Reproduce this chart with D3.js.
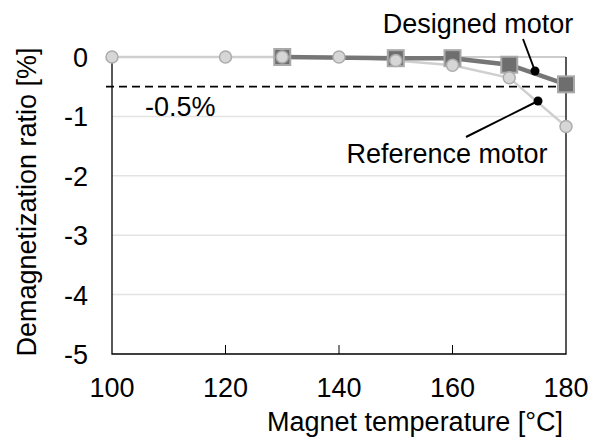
<!DOCTYPE html>
<html>
<head>
<meta charset="utf-8">
<script src="https://cdn.jsdelivr.net/npm/d3@7"></script>
<style>
  body { margin: 0; background: #fff; }
  text { font-family: Arial, "Liberation Sans", sans-serif; fill: #000; }
</style>
</head>
<body>
<svg id="chart" width="598" height="437"></svg>
<script>
// data
var referenceTemps = [100, 120, 130, 140, 150, 160, 170, 180];
var referenceRatio = [0, 0, 0, 0, -0.06, -0.14, -0.35, -1.17];
var designedTemps = [130, 150, 160, 170, 180];
var designedRatio = [0, -0.02, -0.02, -0.13, -0.46];
var xTicks = [100, 120, 140, 160, 180];
var yTicks = [0, -1, -2, -3, -4, -5];
var limitValue = -0.5;

var fontSize = 27;
var svg = d3.select('#chart');
var x = d3.scaleLinear().domain([100, 180]).range([112, 566]);
var y = d3.scaleLinear().domain([-5, 0]).range([354, 57]);

// gridlines
svg.append('g')
  .selectAll('line')
  .data([-1, -2, -3, -4])
  .join('line')
    .attr('x1', x(100)).attr('x2', x(180))
    .attr('y1', y).attr('y2', y)
    .attr('stroke', '#e3e3e3')
    .attr('stroke-width', 1.5);

// frame (top edge is faint, mostly hidden by the series)
svg.append('line')
  .attr('x1', x(100)).attr('x2', x(180))
  .attr('y1', y(0)).attr('y2', y(0))
  .attr('stroke', '#999').attr('stroke-width', 1);
svg.append('path')
  .attr('d', 'M' + x(100) + ',' + y(0) + 'V' + y(-5) + 'H' + x(180) + 'V' + y(0))
  .attr('fill', 'none')
  .attr('stroke', '#000')
  .attr('stroke-width', 1.3);

// inward ticks on x axis
svg.append('g')
  .selectAll('line')
  .data(xTicks.slice(1, -1))
  .join('line')
    .attr('x1', x).attr('x2', x)
    .attr('y1', y(-5)).attr('y2', y(-5) - 9)
    .attr('stroke', '#000')
    .attr('stroke-width', 1);

// tick labels
svg.append('g')
  .selectAll('text')
  .data(xTicks)
  .join('text')
    .attr('x', x)
    .attr('y', 397)
    .attr('text-anchor', 'middle')
    .attr('font-size', fontSize)
    .text(function(d) { return d; });

svg.append('g')
  .selectAll('text')
  .data(yTicks)
  .join('text')
    .attr('x', 88)
    .attr('y', function(d) { return y(d) + 10; })
    .attr('text-anchor', 'end')
    .attr('font-size', fontSize)
    .text(function(d) { return d; });

// axis titles
svg.append('text')
  .attr('x', 415)
  .attr('y', 431)
  .attr('text-anchor', 'middle')
  .attr('font-size', fontSize)
  .text('Magnet temperature [°C]');

svg.append('text')
  .attr('transform', 'translate(36,' + 202 + ') rotate(-90)')
  .attr('text-anchor', 'middle')
  .attr('font-size', fontSize)
  .text('Demagnetization ratio [%]');

// -0.5% limit
svg.append('line')
  .attr('x1', 106).attr('x2', x(180))
  .attr('y1', y(limitValue)).attr('y2', y(limitValue))
  .attr('stroke', '#000')
  .attr('stroke-width', 1.8)
  .attr('stroke-dasharray', '8,5');
svg.append('text')
  .attr('x', 145)
  .attr('y', 116)
  .attr('font-size', fontSize)
  .text('-0.5%');

// series
var refData = referenceTemps.map(function(t, i) { return {t: t, v: referenceRatio[i]}; });
var desData = designedTemps.map(function(t, i) { return {t: t, v: designedRatio[i]}; });
var line = d3.line()
  .x(function(d) { return x(d.t); })
  .y(function(d) { return y(d.v); });

svg.append('path')
  .datum(refData)
  .attr('d', line)
  .attr('fill', 'none')
  .attr('stroke', '#cfcfcf')
  .attr('stroke-width', 2.5);

svg.append('path')
  .datum(desData)
  .attr('d', line)
  .attr('fill', 'none')
  .attr('stroke', '#767676')
  .attr('stroke-width', 4.5);

svg.append('g')
  .selectAll('rect')
  .data(desData)
  .join('rect')
    .attr('x', function(d) { return x(d.t) - 8; })
    .attr('y', function(d) { return y(d.v) - 8; })
    .attr('width', 16)
    .attr('height', 16)
    .attr('fill', '#6e6e6e')
    .attr('stroke', '#a9a9a9')
    .attr('stroke-width', 2);

svg.append('g')
  .selectAll('circle')
  .data(refData)
  .join('circle')
    .attr('cx', function(d) { return x(d.t); })
    .attr('cy', function(d) { return y(d.v); })
    .attr('r', 6)
    .attr('fill', '#d6d6d6')
    .attr('stroke', '#acacac')
    .attr('stroke-width', 1.5);

// callouts
var callouts = [
  {label: 'Designed motor', tx: 478, ty: 33, lx: 523, ly: 39, px: 535, py: 71},
  {label: 'Reference motor', tx: 447, ty: 163, lx: 466, ly: 137, px: 538, py: 101}
];
var co = svg.append('g').selectAll('g').data(callouts).join('g');
co.append('line')
  .attr('x1', function(d) { return d.lx; })
  .attr('y1', function(d) { return d.ly; })
  .attr('x2', function(d) { return d.px; })
  .attr('y2', function(d) { return d.py; })
  .attr('stroke', '#000')
  .attr('stroke-width', 2);
co.append('circle')
  .attr('cx', function(d) { return d.px; })
  .attr('cy', function(d) { return d.py; })
  .attr('r', 4.5)
  .attr('fill', '#000');
co.append('text')
  .attr('x', function(d) { return d.tx; })
  .attr('y', function(d) { return d.ty; })
  .attr('text-anchor', 'middle')
  .attr('font-size', fontSize)
  .text(function(d) { return d.label; });
</script>
</body>
</html>
